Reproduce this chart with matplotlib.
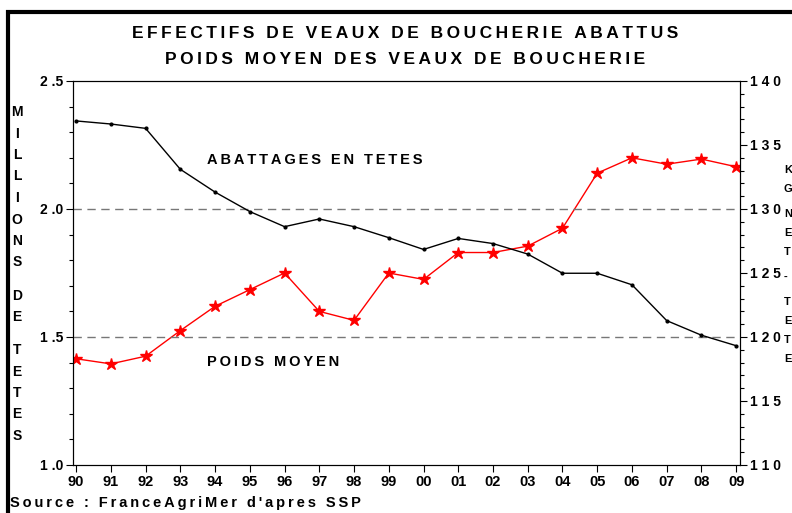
import matplotlib
matplotlib.use('Agg')
from matplotlib import pyplot as plt
from matplotlib.patches import Rectangle
from matplotlib.ticker import MultipleLocator
import numpy as np

plt.rcParams['font.family'] = ['Liberation Sans', 'DejaVu Sans']
plt.rcParams['font.weight'] = 'bold'

annees = ['90', '91', '92', '93', '94', '95', '96', '97', '98', '99',
          '00', '01', '02', '03', '04', '05', '06', '07', '08', '09']
# abattages, millions de tetes (axe de gauche)
abattages = [2.344, 2.332, 2.315, 2.155, 2.066, 1.990, 1.931, 1.961, 1.931, 1.888,
             1.842, 1.885, 1.865, 1.824, 1.749, 1.749, 1.704, 1.564, 1.507, 1.466]
# poids moyen, kg (axe de droite)
poids = [118.3, 117.9, 118.5, 120.5, 122.4, 123.7, 125.0, 122.0, 121.3, 125.0,
         124.5, 126.6, 126.6, 127.1, 128.5, 132.8, 134.0, 133.5, 133.9, 133.3]

W, H = 792, 513
def fx(x): return x / W
def fy(y): return 1 - y / H
def spaced(s, sep='\u2009'):
    return sep.join(s)

fig = plt.figure(figsize=(7.92, 5.13), dpi=100)
ax = fig.add_axes([fx(73), fy(465), fx(740) - fx(73), fy(81) - fy(465)])
ax2 = ax.twinx()

x = np.arange(len(annees))
ax.plot(x, abattages, color='black', lw=1, marker='.', ms=4)
ax2.plot(x, poids, color='red', lw=1, marker='*', ms=9)

ax.set_xlim(-0.09, 19.11)
ax.set_ylim(1.0, 2.5)
ax2.set_ylim(110, 140)
ax.set_zorder(ax2.get_zorder() + 1)
ax.patch.set_visible(False)

for v in [1.5, 2.0]:
    ax.axhline(v, color='#777777', lw=1, ls=(0, (6, 4)), zorder=0)

ax.set_xticks(x)
ax.set_xticklabels(annees, family=['Liberation Sans Narrow', 'Liberation Sans'],
                   fontsize=10.5, fontweight='bold')
ax.set_yticks([1.0, 1.5, 2.0, 2.5])
ax.set_yticklabels(['1 .0', '1 .5', '2 .0', '2 .5'], fontsize=10, fontweight='bold')
ax.yaxis.set_minor_locator(MultipleLocator(0.1))
ax2.set_yticks([110, 115, 120, 125, 130, 135, 140])
ax2.set_yticklabels([spaced(str(t), ' ') for t in [110, 115, 120, 125, 130, 135, 140]],
                    fontsize=10, fontweight='bold')
ax2.yaxis.set_minor_locator(MultipleLocator(1))

for a in (ax, ax2):
    a.tick_params(which='major', length=5, width=0.8, direction='out', pad=2)
    a.tick_params(which='minor', length=3, width=0.8, direction='out')
    for s in a.spines.values():
        s.set_linewidth(0.8)

# titre
fig.text(fx(405), fy(34), spaced('EFFECTIFS DE VEAUX DE BOUCHERIE ABATTUS'),
         ha='center', va='center', fontsize=12.5, fontweight='bold')
fig.text(fx(405), fy(60), spaced('POIDS MOYEN DES VEAUX DE BOUCHERIE'),
         ha='center', va='center', fontsize=12.5, fontweight='bold')

ax.text(fx(207), fy(160), spaced('ABATTAGES EN TETES'), transform=fig.transFigure,
        ha='left', va='center', fontsize=10.5, fontweight='bold')
ax.text(fx(207), fy(362), spaced('POIDS MOYEN'), transform=fig.transFigure,
        ha='left', va='center', fontsize=10.5, fontweight='bold')

# libelle vertical gauche
yy = 112
for mot in ['MILLIONS', 'DE', 'TETES']:
    for c in mot:
        fig.text(fx(17), fy(yy), c, ha='center', va='center', fontsize=10, fontweight='bold')
        yy += 21.5
    yy += 11.5

# libelle vertical droite (au bord de l'image)
yy = 170
for mot in ['KG', 'NET', '-', 'TETE']:
    for c in mot:
        fig.text(fx(784), fy(yy), c, ha='left', va='center', fontsize=8, fontweight='bold')
        yy += 19
    yy += 6

fig.text(fx(10), fy(503), spaced("Source : FranceAgriMer d'apres SSP"), ha='left',
         va='center', fontsize=10.5, fontweight='bold')

fig.patches.append(Rectangle((fx(8), fy(600)), fx(900), fy(12) - fy(600),
                             transform=fig.transFigure, fill=False, lw=3,
                             edgecolor='black', clip_on=False))

fig.savefig('out.png', dpi=100)
